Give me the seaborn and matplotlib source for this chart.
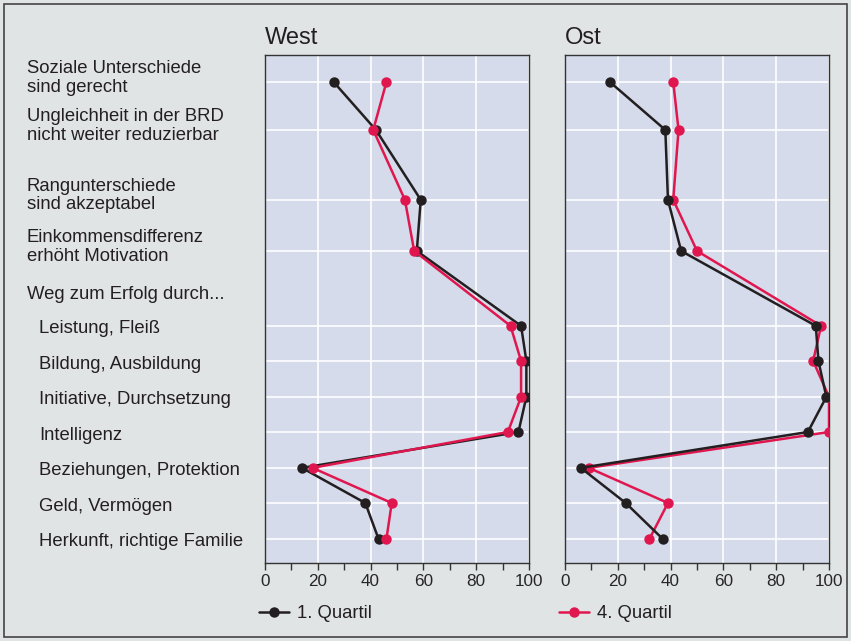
import matplotlib
matplotlib.use("Agg")
import matplotlib.pyplot as plt
import matplotlib.transforms as mtransforms
from matplotlib.lines import Line2D
from matplotlib.patches import Rectangle
import pandas as pd
import seaborn as sns

# Statements / answers (top to bottom)
items = [
    "Soziale Unterschiede\nsind gerecht",
    "Ungleichheit in der BRD\nnicht weiter reduzierbar",
    "Rangunterschiede\nsind akzeptabel",
    "Einkommensdifferenz\nerhöht Motivation",
    "Leistung, Fleiß",
    "Bildung, Ausbildung",
    "Initiative, Durchsetzung",
    "Intelligenz",
    "Beziehungen, Protektion",
    "Geld, Vermögen",
    "Herkunft, richtige Familie",
]
heading = "Weg zum Erfolg durch..."
groups = ["1. Quartil", "4. Quartil"]
regions = ["West", "Ost"]

# Agreement in percent
west_q1 = [26, 42, 59, 57.5, 97, 99, 99, 96, 14, 38, 43]
west_q4 = [46, 41, 53, 56.5, 93, 97, 97, 92, 18, 48, 46]
ost_q1 = [17, 38, 39, 44, 95, 96, 99, 92, 6, 23, 37]
ost_q4 = [41, 43, 41, 50, 97, 94, 100, 100, 9, 39, 32]

# Layout: vertical row slots (two-line statements take more room)
row_pos = [0, 1.35, 3.32, 4.76, 6.87, 7.86, 8.87, 9.86, 10.87, 11.86, 12.87]
heading_pos = 5.94
indented = [False] * 4 + [True] * 7

values = {
    ("West", "1. Quartil"): west_q1,
    ("West", "4. Quartil"): west_q4,
    ("Ost", "1. Quartil"): ost_q1,
    ("Ost", "4. Quartil"): ost_q4,
}
rows = []
for (reg, grp), vals in values.items():
    for it, pos, v in zip(items, row_pos, vals):
        rows.append({"Region": reg, "Gruppe": grp, "Aussage": it, "Pos": pos, "Wert": v})
df = pd.DataFrame(rows)

BG = "#e1e4e5"
PANEL = "#d5dbea"
BLACK = "#231f20"
RED = "#e0174f"
palette = {"1. Quartil": BLACK, "4. Quartil": RED}

sns.set_style("white")
plt.rcParams["font.family"] = ["Liberation Sans", "DejaVu Sans"]
plt.rcParams["text.color"] = "#231f20"

W, H = 851, 641
fig = plt.figure(figsize=(W / 100, H / 100), dpi=100, facecolor=BG)

def fx(px):
    return px / W

def fy(py):
    return 1 - py / H

ax_top, ax_bot = 55, 563
panels = {"West": 265, "Ost": 565}
axes = {}
for reg, left in panels.items():
    ax = fig.add_axes([fx(left), fy(ax_bot), fx(264), (ax_bot - ax_top) / H])
    axes[reg] = ax
    ax.set_facecolor(PANEL)
    order = groups if reg == "West" else groups[::-1]
    sns.lineplot(
        data=df[df["Region"] == reg], x="Wert", y="Pos", hue="Gruppe",
        hue_order=order, palette=palette, estimator=None, sort=False,
        marker="o", markersize=7.5, markeredgewidth=0, linewidth=1.8,
        legend=False, ax=ax, zorder=3,
    )
    ax.set_xlim(0, 100)
    ax.set_ylim(13.55, -0.76)
    ax.set_xticks(range(0, 101, 20))
    ax.set_xticks(range(10, 100, 20), minor=True)
    ax.set_yticks(row_pos)
    ax.set_yticklabels([])
    ax.tick_params(axis="y", length=0)
    ax.tick_params(axis="x", which="both", direction="out", length=5, width=1,
                   color="#333333", labelsize=12.3, pad=3, bottom=True)
    ax.grid(True, which="major", color="white", linewidth=1.2)
    ax.set_axisbelow(True)
    for sp in ax.spines.values():
        sp.set_visible(True)
        sp.set_color("#333333")
        sp.set_linewidth(1.0)
    ax.set_xlabel("")
    ax.set_ylabel("")
    ax.set_title(reg, loc="left", fontsize=17, pad=8)

# Statement labels on the left
ax = axes["West"]
trans = mtransforms.blended_transform_factory(fig.transFigure, ax.transData)

def shifted(px_down):
    return trans + mtransforms.ScaledTranslation(0, -px_down / 100, fig.dpi_scale_trans)

for it, pos, ind in zip(items, row_pos, indented):
    x = fx(39) if ind else fx(27)
    off = -4 if "\n" in it else 3
    fig.text(x, pos, it, transform=shifted(off), ha="left", va="center",
             fontsize=13.3, linespacing=1.1)
fig.text(fx(27), heading_pos, heading, transform=shifted(2), ha="left",
         va="center", fontsize=13.3)

# Legend entries under each panel
for grp, xl in zip(groups, [259, 559]):
    h = Line2D([], [], color=palette[grp], marker="o", markersize=7.5,
               markeredgewidth=0, linewidth=1.8)
    fig.legend([h], [grp], loc="center left", bbox_to_anchor=(fx(xl), fy(614)),
               frameon=False, fontsize=13.3, handlelength=1.6, handletextpad=0.45,
               borderpad=0, borderaxespad=0)

# Outer frame
fig.patches.append(Rectangle((fx(4), fy(637)), fx(843), (633) / H,
                             transform=fig.transFigure, fill=False,
                             edgecolor="#444444", linewidth=1.2))

fig.savefig("out.png", dpi=100, facecolor=BG)
